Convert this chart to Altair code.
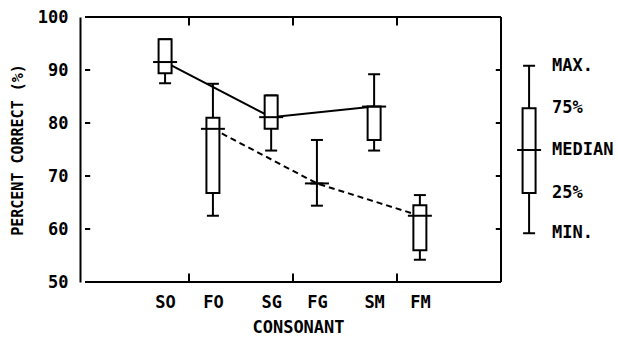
import altair as alt
import pandas as pd

# ---- data ----
consonants = ["SO", "FO", "SG", "FG", "SM", "FM"]
groups = ["S", "F", "S", "F", "S", "F"]
x_pos = [0.77, 1.23, 1.79, 2.23, 2.78, 3.22]
mins = [87.5, 62.5, 74.8, 64.4, 74.8, 54.2]
q1s = [89.4, 66.8, 78.9, 68.6, 76.8, 56.0]
meds = [91.5, 78.9, 81.1, 68.6, 83.1, 62.5]
q3s = [95.8, 81.0, 85.2, 68.6, 83.1, 64.5]
maxs = [95.8, 87.4, 85.2, 76.8, 89.2, 66.4]

y_tick_values = [50, 60, 70, 80, 90, 100]
frame_x_ticks = [1, 2, 3]
frame_y_ticks = [60, 70, 80, 90]

legend_labels = ["MIN.", "25%", "MEDIAN", "75%", "MAX."]
legend_values = [59.2, 66.8, 74.9, 82.8, 90.8]
legend_x = 4.27
legend_label_x = 4.49

FONT = "DejaVu Sans Mono"
WEIGHT = "bold"
X_DOMAIN = [0, 5]
FRAME_RIGHT = 4
Y_MIN, Y_MAX = 50, 100

df = pd.DataFrame({
    "cons": consonants, "group": groups, "x": x_pos,
    "min": mins, "q1": q1s, "med": meds, "q3": q3s, "max": maxs,
})

xs = alt.Scale(domain=X_DOMAIN, nice=False, zero=False)
ys = alt.Scale(domain=[Y_MIN, Y_MAX], nice=False, zero=False)

label_expr = " : ".join(
    [f"abs(datum.value - {p}) < 0.05 ? '{c}'" for p, c in zip(x_pos, consonants)]
) + " : ''"

x_axis = alt.Axis(values=x_pos, labelExpr=label_expr, ticks=False, domain=False,
                  grid=False, labelFont=FONT, labelFontSize=17, labelColor="black",
                  labelFontWeight=WEIGHT,
                  labelPadding=12, title="CONSONANT", titleFont=FONT,
                  titleFontSize=17, titleFontWeight=WEIGHT, titleColor="black",
                  titleX=218, titlePadding=9, labelFlush=False)
y_axis = alt.Axis(values=y_tick_values, ticks=False, grid=False, domainColor="black",
                  domainWidth=2, labelFont=FONT, labelFontSize=17, labelColor="black",
                  labelFontWeight=WEIGHT,
                  labelPadding=12, title="PERCENT CORRECT (%)", titleFont=FONT,
                  titleFontSize=15, titleFontWeight=WEIGHT, titleColor="black",
                  titlePadding=12, format="d", labelFlush=False)

base = alt.Chart(df)

# connecting lines (drawn first so boxes cover them)
line_s = base.transform_filter(alt.datum.group == "S").mark_line(
    color="black", strokeWidth=2).encode(
    x=alt.X("x:Q", scale=xs, axis=x_axis), y=alt.Y("med:Q", scale=ys, axis=y_axis))
line_f = base.transform_filter(alt.datum.group == "F").mark_line(
    color="black", strokeWidth=2, strokeDash=[6, 4]).encode(
    x=alt.X("x:Q", scale=xs), y=alt.Y("med:Q", scale=ys))

whisk = base.mark_rule(color="black", strokeWidth=2).encode(
    x=alt.X("x:Q", scale=xs), y=alt.Y("min:Q", scale=ys), y2="max:Q")
caps = base.transform_fold(["min", "max"], as_=["k", "v"]).mark_tick(
    orient="horizontal", color="black", size=12, thickness=2, opacity=1).encode(
    x=alt.X("x:Q", scale=xs), y=alt.Y("v:Q", scale=ys))
box = base.mark_bar(size=13, fill="white", stroke="black", strokeWidth=2).encode(
    x=alt.X("x:Q", scale=xs), y=alt.Y("q1:Q", scale=ys), y2="q3:Q")
med = base.mark_tick(orient="horizontal", color="black", size=24, thickness=2, opacity=1).encode(
    x=alt.X("x:Q", scale=xs), y=alt.Y("med:Q", scale=ys))

# frame edges
edges = pd.DataFrame({
    "x": [0, 0, FRAME_RIGHT], "x2": [FRAME_RIGHT, FRAME_RIGHT, FRAME_RIGHT],
    "y": [Y_MIN, Y_MAX, Y_MIN], "y2": [Y_MIN, Y_MAX, Y_MAX],
})
frame = alt.Chart(edges).mark_rule(color="black", strokeWidth=2).encode(
    x=alt.X("x:Q", scale=xs), x2="x2:Q", y=alt.Y("y:Q", scale=ys), y2="y2:Q")

# inward frame ticks
tick_rows = []
for v in frame_y_ticks:
    tick_rows.append({"x": 0, "x2": 0.05, "y": v, "y2": v})
    tick_rows.append({"x": FRAME_RIGHT - 0.05, "x2": FRAME_RIGHT, "y": v, "y2": v})
for v in frame_x_ticks:
    tick_rows.append({"x": v, "x2": v, "y": Y_MIN, "y2": Y_MIN + 1.6})
    tick_rows.append({"x": v, "x2": v, "y": Y_MAX - 1.6, "y2": Y_MAX})
fticks = alt.Chart(pd.DataFrame(tick_rows)).mark_rule(color="black", strokeWidth=2).encode(
    x=alt.X("x:Q", scale=xs), x2="x2:Q", y=alt.Y("y:Q", scale=ys), y2="y2:Q")

# legend box
leg = pd.DataFrame([{
    "x": legend_x, "min": legend_values[0], "q1": legend_values[1],
    "med": legend_values[2], "q3": legend_values[3], "max": legend_values[4]}])
lb = alt.Chart(leg)
leg_whisk = lb.mark_rule(color="black", strokeWidth=2).encode(
    x=alt.X("x:Q", scale=xs), y=alt.Y("min:Q", scale=ys), y2="max:Q")
leg_caps = lb.transform_fold(["min", "max"], as_=["k", "v"]).mark_tick(
    orient="horizontal", color="black", size=12, thickness=2, opacity=1).encode(
    x=alt.X("x:Q", scale=xs), y=alt.Y("v:Q", scale=ys))
leg_box = lb.mark_bar(size=13, fill="white", stroke="black", strokeWidth=2).encode(
    x=alt.X("x:Q", scale=xs), y=alt.Y("q1:Q", scale=ys), y2="q3:Q")
leg_med = lb.mark_tick(orient="horizontal", color="black", size=24, thickness=2, opacity=1).encode(
    x=alt.X("x:Q", scale=xs), y=alt.Y("med:Q", scale=ys))
leg_text = alt.Chart(pd.DataFrame({
    "label": legend_labels, "v": legend_values, "x": [legend_label_x] * 5})).mark_text(
    align="left", baseline="middle", font=FONT, fontSize=17, fontWeight=WEIGHT,
    color="black").encode(
    x=alt.X("x:Q", scale=xs), y=alt.Y("v:Q", scale=ys), text="label:N")

chart = alt.layer(
    line_s, line_f, whisk, caps, box, med, frame, fticks,
    leg_whisk, leg_caps, leg_box, leg_med, leg_text,
).properties(
    width=530, height=265,
    autosize=alt.AutoSizeParams(type="none"),
    padding={"left": 80, "top": 17, "right": 8, "bottom": 55},
    background="white",
).configure_view(stroke=None)

chart.save("out.html", embed_options={"renderer": "svg", "actions": False})
